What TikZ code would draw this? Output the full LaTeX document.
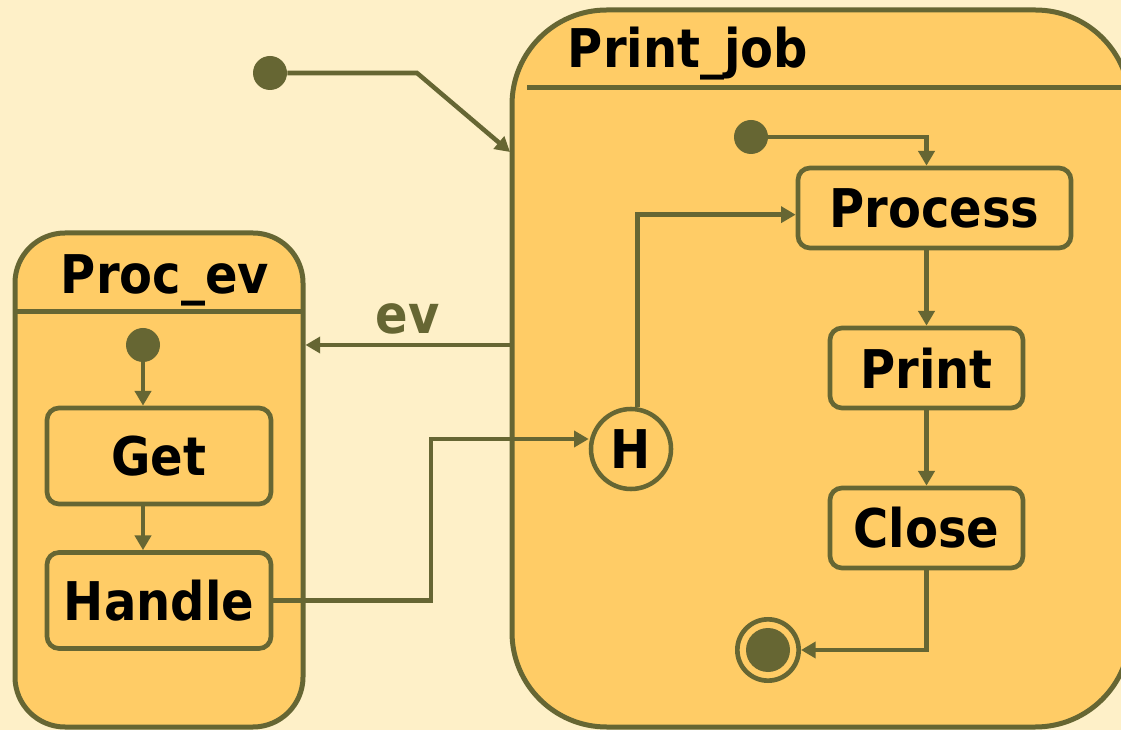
\documentclass[tikz,border=0pt]{standalone}
\usepackage{fontspec}
\newfontfamily\umlfont{DejaVu Sans Condensed Bold}
\usetikzlibrary{arrows.meta}
\definecolor{paper}{RGB}{254, 240, 200}
\definecolor{statefill}{RGB}{255, 204, 102}
\definecolor{umlline}{RGB}{102, 102, 51}

\begin{document}
\begin{tikzpicture}[x=0.75pt, y=-0.75pt, font=\umlfont\fontsize{40}{42}\selectfont,
	state/.style={draw=umlline, fill=statefill, line width=3.5pt, rounded corners=9pt, inner sep=0pt},
	super/.style={draw=umlline, fill=statefill, line width=3.75pt, inner sep=0pt},
	initdot/.style={circle, fill=umlline, minimum size=25.5pt, inner sep=0pt},
	flow/.style={umlline, line width=3.4pt, -{Triangle[length=11pt, width=12pt]}},
	link/.style={umlline, line width=3.4pt}]
	
	% --- Page and background ---
	\clip (0, 0) rectangle (1121, 730);
	\fill[paper] (0, 0) rectangle (1121, 730);
	
	% --- Composite state Print_job ---
	\node[super, rounded corners=71pt, minimum width=463.5pt, minimum height=537.75pt] (printjob) at (821, 368.5) {};
	\draw[link, line width=3.75pt] (527, 88) -- (1121, 88);
	\node (pjtitle) at (688, 54) {Print\_job};
	
	% --- Composite state Proc_ev ---
	\node[super, rounded corners=37.5pt, minimum width=216pt, minimum height=370.5pt] (procev) at (159, 480) {};
	\draw[link, line width=3.75pt] (15, 312) -- (303, 312);
	\node (petitle) at (165, 280) {Proc\_ev};
	
	% --- Top level start ---
	\node[initdot] (start) at (270, 73) {};
	\coordinate (pjentry) at (510, 152);
	\draw[flow] (start) -- (417, 73) -- (pjentry);
	
	% --- Inside Print_job ---
	\node[initdot] (pjinit) at (751, 137) {};
	\node[state, minimum width=204.75pt, minimum height=60pt] (process) at (934.5, 208) {Process};
	\node[state, minimum width=144.75pt, minimum height=60pt] (print) at (926.5, 368) {Print};
	\node[state, minimum width=144.75pt, minimum height=60pt] (close) at (926.5, 528) {Close};
	\node[circle, draw=umlline, line width=3.4pt, fill=statefill, minimum size=60pt, inner sep=0pt] (hist) at (631, 449) {H};
	\node[circle, draw=umlline, line width=3.5pt, fill=statefill, minimum size=46pt, inner sep=0pt] (final) at (768, 650) {};
	\fill[umlline] (final) circle (16.5pt);
	
	\draw[flow] (pjinit) -| (process.north -| print.north);
	\draw[flow] (process.south -| print.north) -- (print.north);
	\draw[flow] (print) -- (close);
	\draw[flow] (close.south) |- (final.east);
	\draw[flow] ([xshift=5pt]hist.north) |- ([yshift=-5pt]process.west);
	
	% --- Inside Proc_ev ---
	\node[initdot] (peinit) at (143, 345) {};
	\node[state, minimum width=168pt, minimum height=72pt] (get) at (159, 456) {Get};
	\node[state, minimum width=168pt, minimum height=72pt] (handle) at (159, 600.5) {Handle};
	
	\draw[flow] (peinit) -- (peinit |- get.north);
	\draw[flow] (get.south -| peinit) -- (handle.north -| peinit);
	
	% --- Transitions between the two ---
	\draw[flow] (printjob.west |- 0, 345) -- (procev.east |- 0, 345) node[midway, above=3pt, text=umlline] (evlabel) {ev};
	\draw[flow] (handle.east) -- (431, 600.5) |- ([yshift=7.5pt]hist.west);
	
\end{tikzpicture}
\end{document}
